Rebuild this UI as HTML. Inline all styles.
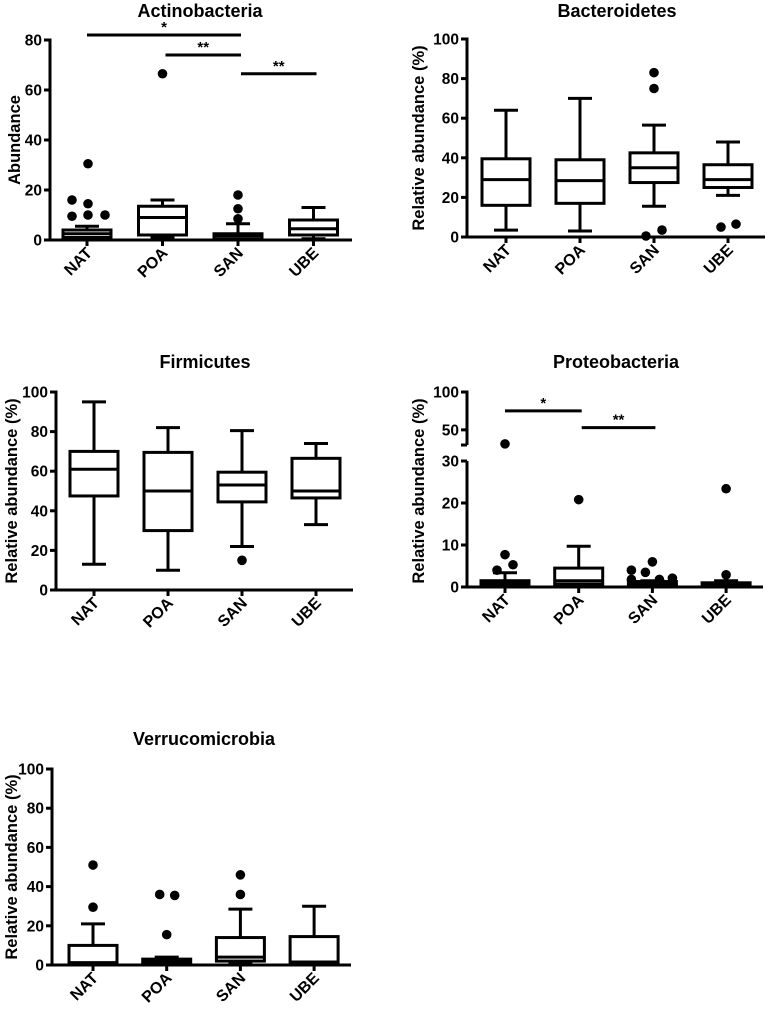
<!DOCTYPE html>
<html><head><meta charset="utf-8">
<style>
html,body{margin:0;padding:0;background:#fff;}
svg{display:block;font-family:"Liberation Sans",Arial,sans-serif;font-weight:bold;}
</style></head>
<body>
<svg id="fig" width="768" height="1009" viewBox="0 0 768 1009" xmlns="http://www.w3.org/2000/svg"></svg>
<script>
const categories = ["NAT","POA","SAN","UBE"];
// [min, q1, median, q3, max]
const actinoStats = [[0.5,1,2.5,4,5.5],[1,2,9,13.5,16],[0,0.3,1.5,2.5,6.5],[0.5,2,4.5,8,13]];
const actinoOutliers = [[30.5,16,14.5,9.5,10,10],[66.5],[18,12.5,8.5],[]];
const actinoOutlierDx = [[1,-15,1,-15,1,18],[0],[0,0,0],[]];
const bactStats = [[3.5,16,29,39.5,64],[3,17,28.5,39,70],[15.5,27.5,35,42.5,56.5],[21,25,29,36.5,48]];
const bactOutliers = [[],[],[83,75,0.5,3.5],[5,6.5]];
const bactOutlierDx = [[],[],[0,0,-8,8],[-7,8]];
const firmStats = [[13,47.5,61,70,95],[10,30,50,69.5,82],[22,44.5,53,59.5,80.5],[33,46.5,50,66.5,74]];
const firmOutliers = [[],[],[15],[]];
const firmOutlierDx = [[],[],[0],[]];
const proteoStats = [[0,0.5,1,1.5,3.4],[0.5,0.7,1.5,4.5,9.7],[0,0.3,0.7,1.3,1.5],[0.3,0.6,0.8,1,1.5]];
const proteoOutliers = [[31.5,7.7,5.3,4],[20.8],[6,4,3.5,1.8,1.8,2.1],[23.4,2.9]];
const proteoOutlierDx = [[0,0,8,-8],[0],[0,-21,-7,-21,7,20],[0,0]];
const verruStats = [[1,1,1.2,10,21],[0.5,1,2,3,4],[1,2,4,14,28.5],[0.5,1,1.5,14.5,30]];
const verruOutliers = [[51,29.5],[36,35.5,15.5],[46,36],[]];
const verruOutlierDx = [[0,0],[-7,8,0],[0,0],[]];
const ticks80 = [0,20,40,60,80];
const ticks100 = [0,20,40,60,80,100];
const proteoTicksLow = [0,10,20,30];
const proteoTicksHigh = [50,100];
const actinoSig = [{from:0,to:2,v:82,label:"*"},{from:1,to:2,v:74,label:"**"},{from:2,to:3,v:66.5,label:"**"}];
const proteoSig = [{from:0,to:1,v:75,label:"*"},{from:1,to:2,v:53,label:"**"}];

const NS="http://www.w3.org/2000/svg";
const svg=document.getElementById('fig');
function mk(tag,attrs,parent){const e=document.createElementNS(NS,tag);for(const k in attrs)e.setAttribute(k,attrs[k]);(parent||svg).appendChild(e);return e;}

function panel(cfg){
  const g=mk('g',{});
  
  
  const y=cfg.y;
  const x=i=>cfg.x0+cfg.dx*i;
  const lw=3;
  const t=mk('text',{x:cfg.tx,y:cfg.ty,'text-anchor':'middle','font-size':18},g);
  t.textContent=cfg.title;
  
  
  const yl=mk('text',{transform:`translate(${cfg.ylx},${cfg.yly}) rotate(-90)`,'text-anchor':'middle','font-size':16.5},g);
  yl.textContent=cfg.ylabel;
  
  
  const ax=mk('g',{stroke:'#000','stroke-width':lw,fill:'none'},g);
  
  
  if(cfg.axisSegs){cfg.axisSegs.forEach(s=>{mk('line',{x1:cfg.ax,x2:cfg.ax,y1:s[0],y2:s[1]},ax);});}
  else mk('line',{x1:cfg.ax,x2:cfg.ax,y1:y(cfg.ymax)-1.5,y2:y(0)+1.5},ax);
  mk('line',{x1:cfg.ax-1.5,x2:cfg.xend,y1:y(0),y2:y(0)},ax);
  (cfg.extraTicks||[]).forEach(p=>mk('line',{x1:cfg.ax-6,x2:cfg.ax,y1:p,y2:p},ax));
  cfg.ticks.forEach(v=>{
    mk('line',{x1:cfg.ax-6,x2:cfg.ax,y1:y(v),y2:y(v)},ax);
    const tl=mk('text',{x:cfg.ax-8,y:y(v)+5.5,'text-anchor':'end','font-size':15.5,stroke:'none',fill:'#000'},g);
    tl.textContent=v;
    
    
  });
  categories.forEach((c,i)=>{
    mk('line',{x1:x(i),x2:x(i),y1:y(0),y2:y(0)+6},ax);
    const xl=mk('text',{transform:`translate(${x(i)+6},${y(0)+14}) rotate(-45)`,'text-anchor':'end','font-size':16,fill:'#000'},g);
    xl.textContent=c;
    
    
  });
  const hw=24, cap=12;
  cfg.stats.forEach((s,i)=>{
    const bg=mk('g',{stroke:'#000','stroke-width':lw,fill:'none'},g);
    
    
    const cx=x(i);
    mk('line',{x1:cx,x2:cx,y1:y(s[0]),y2:y(s[1])},bg);
    mk('line',{x1:cx,x2:cx,y1:y(s[3]),y2:y(s[4])},bg);
    mk('line',{x1:cx-cap,x2:cx+cap,y1:y(s[0]),y2:y(s[0])},bg);
    mk('line',{x1:cx-cap,x2:cx+cap,y1:y(s[4]),y2:y(s[4])},bg);
    mk('rect',{x:cx-hw,y:y(s[3]),width:2*hw,height:Math.max(0.5,y(s[1])-y(s[3]))},bg);
    mk('line',{x1:cx-hw,x2:cx+hw,y1:y(s[2]),y2:y(s[2])},bg);
    cfg.outliers[i].forEach((v,j)=>{
      const d=mk('circle',{cx:cx+cfg.odx[i][j],cy:y(v),r:4.8,fill:'#000',stroke:'none'},g);
      
      
    });
  });
  (cfg.sig||[]).forEach(b=>{
    const x1=x(b.from)+(b.from>0?3:0), x2=x(b.to)+3;
    const l=mk('line',{x1:x1,x2:x2,y1:y(b.v),y2:y(b.v),stroke:'#000','stroke-width':lw},g);
    
    
    const st=mk('text',{x:(x1+x2)/2,y:y(b.v)-3,'text-anchor':'middle','font-size':15},g);
    st.textContent=b.label;
    
    
  });
}

function lin(y0,ymaxPix,ymax){return v=>y0-(y0-ymaxPix)*v/ymax;}

panel({name:'actinobacteria',title:'Actinobacteria',tx:200,ty:17,ylabel:'Abundance',ylx:20,yly:140,
  ax:50,xend:352,x0:87,dx:75.5,y:lin(240,40,80),ymax:80,ticks:ticks80,
  stats:actinoStats,outliers:actinoOutliers,odx:actinoOutlierDx,sig:actinoSig});
panel({name:'bacteroidetes',title:'Bacteroidetes',tx:617,ty:17,ylabel:'Relative abundance (%)',ylx:424,yly:138,
  ax:467,xend:765,x0:506,dx:74,y:lin(237,39,100),ymax:100,ticks:ticks100,
  stats:bactStats,outliers:bactOutliers,odx:bactOutlierDx});
panel({name:'firmicutes',title:'Firmicutes',tx:205,ty:368,ylabel:'Relative abundance (%)',ylx:17,yly:491,
  ax:56,xend:353,x0:94,dx:74,y:lin(590,392,100),ymax:100,ticks:ticks100,
  stats:firmStats,outliers:firmOutliers,odx:firmOutlierDx});
function proteoY(v){return v<=30?587-(587-461)*v/30:445-(445-392)*(v-30)/70;}
panel({name:'proteobacteria',title:'Proteobacteria',tx:616,ty:368,ylabel:'Relative abundance (%)',ylx:424,yly:491,
  ax:467,xend:763,x0:505,dx:73.7,y:proteoY,ymax:100,ticks:proteoTicksLow.concat(proteoTicksHigh),
  axisSegs:[[390.5,445],[461,588.5]],extraTicks:[445],
  stats:proteoStats,outliers:proteoOutliers,odx:proteoOutlierDx,sig:proteoSig});
panel({name:'verrucomicrobia',title:'Verrucomicrobia',tx:204,ty:745,ylabel:'Relative abundance (%)',ylx:17,yly:867,
  ax:52,xend:351,x0:93,dx:73.7,y:lin(965,769,100),ymax:100,ticks:ticks100,
  stats:verruStats,outliers:verruOutliers,odx:verruOutlierDx});
</script>
</body></html>
